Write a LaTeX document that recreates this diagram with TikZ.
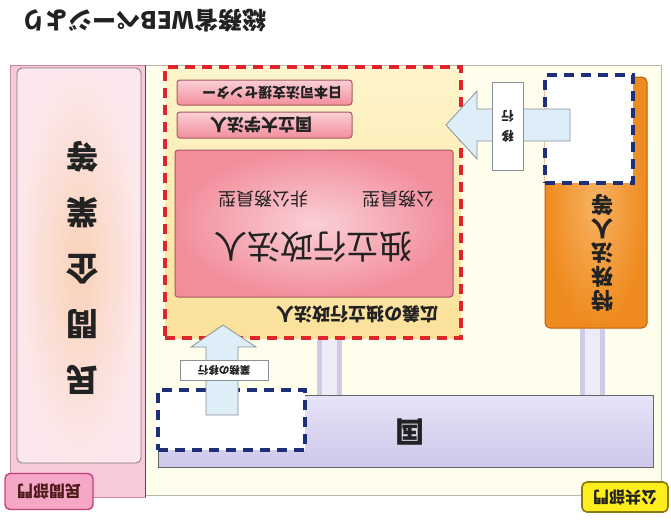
\documentclass[tikz,border=0pt]{standalone}
\usepackage{fontspec}
\setmainfont{Noto Sans CJK JP}
\definecolor{privfill}{HTML}{F8C8DB}
\definecolor{privedge}{HTML}{C9869F}
\definecolor{privin}{HTML}{FAD2B8}
\definecolor{privout}{HTML}{FCE8EC}
\definecolor{pubfill}{HTML}{FFFDEB}
\definecolor{pubedge}{HTML}{B8B8A8}
\definecolor{redash}{HTML}{E0242B}
\definecolor{navydash}{HTML}{1F2E78}
\definecolor{lavtop}{HTML}{E6E3F7}
\definecolor{lavbot}{HTML}{CDC8EA}
\definecolor{lavbar}{HTML}{CFCAE6}
\definecolor{lavlight}{HTML}{EEEBF8}
\definecolor{pinkdeep}{HTML}{F28E9C}
\definecolor{pinklight}{HTML}{FAD0D6}
\definecolor{boxedge}{HTML}{A45A5E}
\definecolor{orangedeep}{HTML}{EF8A1E}
\definecolor{orangelight}{HTML}{F7B262}
\definecolor{orangeedge}{HTML}{B86010}
\definecolor{yeltop}{HTML}{FEF5CC}
\definecolor{yelbot}{HTML}{FBE19A}
\definecolor{arrowfill}{HTML}{DDEEF8}
\definecolor{arrowedge}{HTML}{8A9098}
\definecolor{ink}{HTML}{222222}
\definecolor{publab}{HTML}{FFEE1E}
\definecolor{publabedge}{HTML}{8A7A10}
\definecolor{privlab}{HTML}{F6A6C6}
\definecolor{privlabedge}{HTML}{C2407A}
\tikzset{
  upside/.style={rotate=180, text=ink, inner sep=0pt, align=center},
  area/.style={inner sep=0pt, anchor=center},
  rdash/.style={draw=redash, line width=3.4pt, dash pattern=on 10pt off 7pt},
  ndash/.style={draw=navydash, line width=3.4pt, dash pattern=on 10pt off 7pt},
  pinkbox/.style={area, draw=boxedge, line width=1pt, rounded corners=3pt, top color=pinklight, bottom color=pinkdeep},
  labelbox/.style={area, fill=white, draw=arrowedge, line width=0.8pt},
  blockarrow/.style={fill=arrowfill, draw=arrowedge, line width=0.8pt, line join=miter},
  lavpipe/.style={draw=lavbar, line width=5pt, double=lavlight, double distance=15pt},
}
\begin{document}
\begin{tikzpicture}[x=1pt,y=-1pt]
\useasboundingbox[fill=white] (0,0) rectangle (671,520);

% title
\node[upside, font=\bfseries\fontsize{24}{26}\selectfont] (title) at (144,21) {総務省WEBページより};

% public area
\node[area, draw=pubedge, fill=pubfill, line width=0.8pt, minimum width=516pt, minimum height=430pt] (pub) at (403,280) {};
% private area
\node[area, draw=privedge, fill=privfill, line width=0.8pt, minimum width=135pt, minimum height=432pt] (priv) at (77.5,281) {};
\draw[line width=1.2pt, draw=ink!80] (priv.north east) -- (priv.south east);
\node[area, draw=ink!60, line width=0.8pt, rounded corners=5pt, inner color=privin, outer color=privout, minimum width=124pt, minimum height=395pt] (firms) at (79,265.5) {};
\node[upside, font=\bfseries\fontsize{32}{56}\selectfont] (firmstxt) at (82,268) {民\\間\\企\\業\\等};

% labels of the two sectors
\node[area, draw=privlabedge, fill=privlab, line width=1.4pt, rounded corners=5pt, minimum width=88pt, minimum height=36pt] (privlabel) at (49,491.5) {};
\node[upside, font=\bfseries\fontsize{16}{18}\selectfont, text=ink!80!red] at (privlabel) {民間部門};
\node[area, draw=publabedge, fill=publab, line width=1.6pt, rounded corners=5pt, minimum width=86pt, minimum height=30pt] (publabel) at (625,497) {};
\node[upside, font=\bfseries\fontsize{16}{18}\selectfont] at (publabel) {公共部門};

% the state
\node[area, draw=ink!70, line width=1pt, top color=lavtop, bottom color=lavbot, minimum width=495pt, minimum height=72pt] (kuni) at (405.5,431) {};
\node[upside, font=\bfseries\fontsize{29}{30}\selectfont] (kunitxt) at (410,432) {国};
\node[area, ndash, fill=white, minimum width=147pt, minimum height=60pt] (kunidash) at (231.5,420) {};

% broad independent administrative institutions
\node[area, rdash, top color=yeltop, bottom color=yelbot, minimum width=296pt, minimum height=271pt] (broad) at (313,202.5) {};
\node[upside, font=\bfseries\fontsize{18}{20}\selectfont] (broadtxt) at (357,314) {広義の独立行政法人};
\node[pinkbox, minimum width=175pt, minimum height=25pt] (jssc) at (264.5,92.5) {};
\node[upside, font=\bfseries\fontsize{14}{16}\selectfont] at (272,92.5) {日本司法支援センター};
\node[pinkbox, minimum width=175pt, minimum height=26pt] (univ) at (264.5,125) {};
\node[upside, font=\bfseries\fontsize{17}{19}\selectfont] at (261,125) {国立大学法人};
\node[area, draw=boxedge, line width=1pt, rounded corners=3pt, inner color=pinklight, outer color=pinkdeep, minimum width=278pt, minimum height=147pt] (iaa) at (314,223.5) {};
\node[upside, font=\fontsize{33}{35}\selectfont] at (313,247) {独立行政法人};
\node[upside, font=\fontsize{18}{20}\selectfont] at (398,199) {公務員型};
\node[upside, font=\fontsize{18}{20}\selectfont] at (263,199) {非公務員型};

% special corporations
\node[area, draw=orangeedge, line width=1pt, rounded corners=5pt, inner color=orangelight, outer color=orangedeep, minimum width=102pt, minimum height=251pt] (tokushu) at (596,202.5) {};
\node[upside, font=\bfseries\fontsize{22}{24}\selectfont] at (602,253) {特\\殊\\法\\人\\等};
\node[area, ndash, fill=white, minimum width=88pt, minimum height=108pt] (tokudash) at (589,129) {};

% pipes to the state
\coordinate (p1) at (329.5,0);
\coordinate (p2) at (592.5,0);
\draw[lavpipe] (broad.south -| p1) -- (kuni.north -| p1);
\draw[lavpipe] (tokushu.south -| p2) -- (kuni.north -| p2);

% arrow: transfer of work (up)
\draw[blockarrow] (206,415) -- (206,347) -- (191,347) -- (223,325) -- (256,347) -- (238,347) -- (238,415) -- cycle;
\node[labelbox, minimum width=88pt, minimum height=20pt] (movelab) at (224,370) {};
\node[upside, font=\bfseries\fontsize{10.5}{12}\selectfont] at (movelab) {業務の移行};

% arrow: transition (left)
\draw[blockarrow] (570,109) -- (477,109) -- (477,91) -- (446,125) -- (477,159) -- (477,141) -- (570,141) -- cycle;
\node[labelbox, minimum width=31pt, minimum height=88pt] (translab) at (507.5,126) {};
\node[upside, font=\bfseries\fontsize{12.5}{20}\selectfont] at (translab) {移\\行};
\end{tikzpicture}
\end{document}
